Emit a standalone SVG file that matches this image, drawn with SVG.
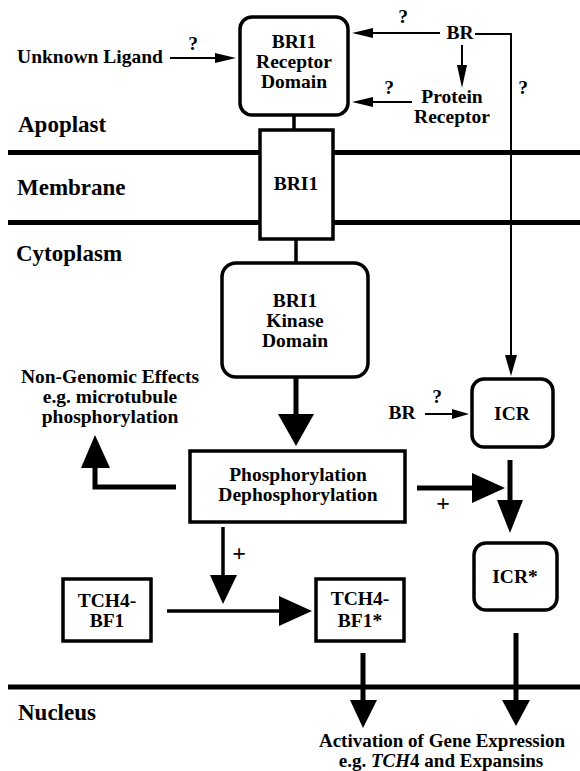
<svg xmlns="http://www.w3.org/2000/svg" width="580" height="771" viewBox="0 0 580 771">
<style>
.t{font-family:"Liberation Serif","Times New Roman",serif;font-weight:bold;font-size:19.5px;text-anchor:middle;fill:#000}
.r{font-size:23px;text-anchor:start}
.s{font-size:19px}
.p{font-size:24px}
.box{fill:#fff;stroke:#000;stroke-width:3.5}
.mem{stroke:#000;stroke-width:5}
.thin{stroke:#000;stroke-width:2;fill:none}
.med{stroke:#000;stroke-width:3.5;fill:none}
.thick{stroke:#000;stroke-width:5;fill:none}
.head{fill:#000}
</style>
<rect width="580" height="771" fill="#fff"/>
<g id="membranes">
<line class="mem" x1="8" y1="152.5" x2="580" y2="152.5"/>
<line class="mem" x1="8" y1="222.5" x2="580" y2="222.5"/>
<line class="mem" x1="8" y1="687" x2="580" y2="687"/>
</g>
<g id="regions">
<text class="t r" x="18" y="132">Apoplast</text>
<text class="t r" x="17" y="195">Membrane</text>
<text class="t r" x="16" y="261">Cytoplasm</text>
<text class="t r" x="18" y="720">Nucleus</text>
</g>
<g id="connectors">
<line class="med" x1="294" y1="115" x2="294" y2="130"/>
<line class="med" x1="296" y1="239" x2="296" y2="263"/>
<line class="thick" x1="296" y1="377" x2="296" y2="416"/>
<polygon class="head" points="278,414 314,414 296,446"/>
<polyline class="thick" points="176,487 95,487 95,465"/>
<polygon class="head" points="81,468 110,468 95,435"/>
<line class="thick" x1="417" y1="488" x2="475" y2="488"/>
<polygon class="head" points="472,473 472,503 505,488"/>
<line class="thick" x1="510" y1="460" x2="510" y2="502"/>
<polygon class="head" points="497,500 523,500 510,533"/>
<line class="thick" x1="516" y1="633" x2="516" y2="702"/>
<polygon class="head" points="502,700 530,700 516,726"/>
<line class="thick" x1="363" y1="653" x2="363" y2="702"/>
<polygon class="head" points="350,700 377,700 363,728"/>
<line class="med" x1="223" y1="527" x2="223" y2="577"/>
<polygon class="head" points="210,575 237,575 223,604"/>
<line class="med" x1="167" y1="611" x2="281" y2="611"/>
<polygon class="head" points="279,596 279,626 312,611"/>
<line class="thin" x1="425" y1="414" x2="455" y2="414"/>
<polygon class="head" points="452,409 452,419 469,414"/>
<line class="thin" x1="440" y1="33" x2="370" y2="33"/>
<polygon class="head" points="373,28 373,38 352,33"/>
<polyline class="thin" points="475,34 511,34 511,358"/>
<polygon class="head" points="505,355 517,355 511,376"/>
<line class="thin" x1="462" y1="45" x2="462" y2="68"/>
<polygon class="head" points="457,65 467,65 462,88"/>
<line class="thin" x1="412" y1="102" x2="370" y2="102"/>
<polygon class="head" points="373,97 373,107 352,102"/>
<line class="thin" x1="170" y1="58" x2="217" y2="58"/>
<polygon class="head" points="215,53 215,63 236,58"/>
<text class="t" x="193" y="50">?</text>
<text class="t" x="403" y="23">?</text>
<text class="t" x="389" y="94">?</text>
<text class="t" x="523" y="94">?</text>
<text class="t" x="437" y="403">?</text>
<text class="t p" x="443" y="511">+</text>
<text class="t p" x="239" y="561">+</text>
</g>
<g id="unknown-ligand"><text class="t" x="90" y="63">Unknown Ligand</text></g>
<g id="br-top"><text class="t" x="460" y="39">BR</text></g>
<g id="protein-receptor">
<text class="t" x="452" y="103">Protein</text>
<text class="t" x="452" y="123">Receptor</text>
</g>
<g id="bri1-receptor">
<rect class="box" x="240" y="17" width="108" height="98" rx="12"/>
<text class="t" x="294" y="48">BRI1</text>
<text class="t" x="294" y="68">Receptor</text>
<text class="t" x="294" y="88">Domain</text>
</g>
<g id="bri1-membrane">
<rect class="box" x="260" y="130" width="73" height="109"/>
<text class="t" x="296" y="190">BRI1</text>
</g>
<g id="bri1-kinase">
<rect class="box" x="222" y="263" width="146" height="114" rx="14"/>
<text class="t" x="295" y="307">BRI1</text>
<text class="t" x="295" y="327">Kinase</text>
<text class="t" x="295" y="347">Domain</text>
</g>
<g id="non-genomic">
<text class="t" x="110" y="383">Non-Genomic Effects</text>
<text class="t" x="110" y="403">e.g. microtubule</text>
<text class="t" x="110" y="423">phosphorylation</text>
</g>
<g id="phosphorylation">
<rect class="box" x="190" y="451" width="215" height="71"/>
<text class="t" x="298" y="481">Phosphorylation</text>
<text class="t" x="298" y="501">Dephosphorylation</text>
</g>
<g id="br-icr"><text class="t" x="402" y="419">BR</text></g>
<g id="icr">
<rect class="box" x="472" y="379" width="81" height="68" rx="12"/>
<text class="t" x="512" y="420">ICR</text>
</g>
<g id="icr-star">
<rect class="box" x="474" y="543" width="83" height="67" rx="12"/>
<text class="t" x="515" y="583">ICR*</text>
</g>
<g id="tch4-bf1">
<rect class="box" x="63" y="579" width="88" height="62"/>
<text class="t" x="107" y="607">TCH4-</text>
<text class="t" x="107" y="627">BF1</text>
</g>
<g id="tch4-bf1-star">
<rect class="box" x="316" y="579" width="88" height="62"/>
<text class="t" x="360" y="605">TCH4-</text>
<text class="t" x="360" y="627">BF1*</text>
</g>
<g id="gene-expression">
<text class="t s" x="442" y="747">Activation of Gene Expression</text>
<text class="t s" x="441" y="767">e.g. <tspan font-style="italic">TCH</tspan>4 and Expansins</text>
</g>
</svg>
